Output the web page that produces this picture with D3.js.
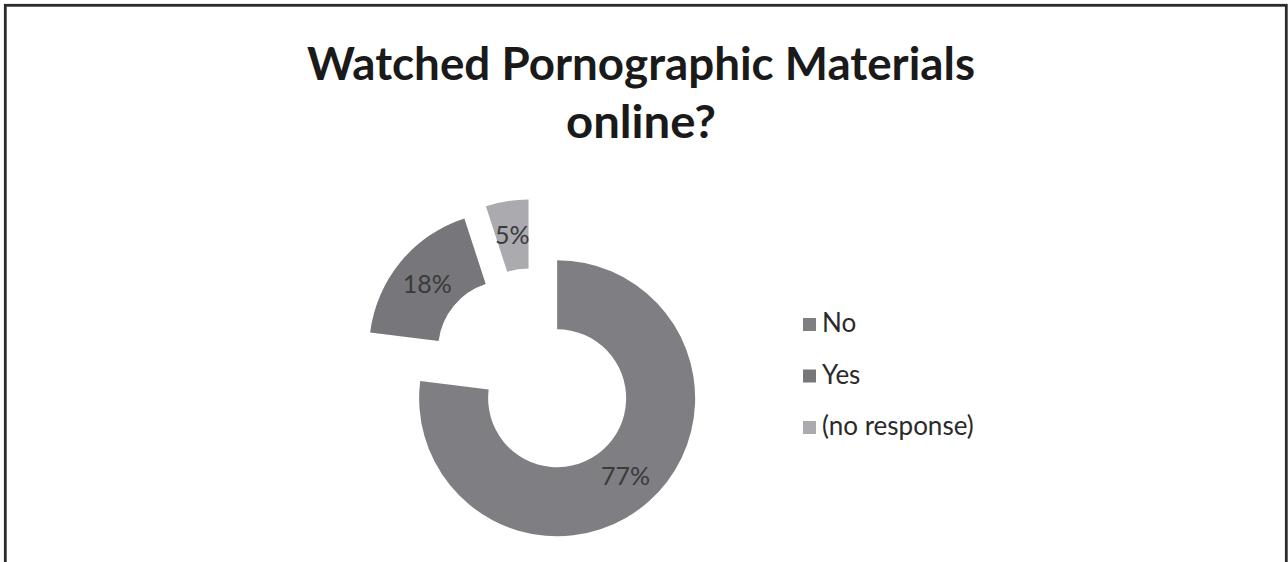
<!DOCTYPE html>
<html>
<head>
<meta charset="utf-8">
<script src="https://cdn.jsdelivr.net/npm/d3@7"></script>
<style>
  html, body { margin: 0; padding: 0; background: #fff; }
  svg { display: block; }
</style>
</head>
<body>
<svg id="chart" width="1288" height="562"></svg>
<script>
// Survey answers and their shares (percent)
const categories = ["No", "Yes", "(no response)"];
const values = [77, 18, 5];
const colors = ["#7f7f83", "#77777b", "#ababaf"];
const titleLines = ["Watched Pornographic Materials", "online?"];

const svg = d3.select("#chart");

// frame (open at the bottom edge)
svg.append("rect")
  .attr("x", 5.3).attr("y", 5.3)
  .attr("width", 1281).attr("height", 640)
  .attr("fill", "none")
  .attr("stroke", "#2b2b2b")
  .attr("stroke-width", 2.8);

// title, two centred lines
const title = svg.append("text")
  .attr("text-anchor", "middle")
  .attr("font-family", "Lato, 'Open Sans', sans-serif")
  .attr("font-weight", "bold")
  .attr("font-size", 45)
  .attr("fill", "#1a1a1a");
title.append("tspan").attr("x", 641).attr("y", 80)
  .attr("textLength", 668).attr("lengthAdjust", "spacingAndGlyphs")
  .text(titleLines[0]);
title.append("tspan").attr("x", 641).attr("y", 138)
  .attr("textLength", 150).attr("lengthAdjust", "spacingAndGlyphs")
  .text(titleLines[1]);

// donut with every slice pulled out along its bisector
const cx = 534, cy = 372;
const outerR = 138, innerR = 69, explode = 35;

const pie = d3.pie().sort(null).value(d => d).startAngle(0).endAngle(2 * Math.PI);
const arcs = pie(values);
const arc = d3.arc().innerRadius(innerR).outerRadius(outerR);
const colorScale = d3.scaleOrdinal().domain(categories).range(colors);

const g = svg.append("g").attr("transform", `translate(${cx},${cy})`);

const slice = g.selectAll("g.slice")
  .data(arcs)
  .join("g")
  .attr("class", "slice")
  .attr("transform", d => {
    const a = (d.startAngle + d.endAngle) / 2;
    return `translate(${Math.sin(a) * explode},${-Math.cos(a) * explode})`;
  });

slice.append("path")
  .attr("d", arc)
  .attr("fill", (d, i) => colorScale(categories[i]));

slice.append("text")
  .attr("transform", d => `translate(${arc.centroid(d)})`)
  .attr("text-anchor", "middle")
  .attr("dy", "0.36em")
  .attr("font-family", "Lato, 'Open Sans', sans-serif")
  .attr("font-size", 25)
  .attr("fill", "#3a3a3a")
  .text(d => d.data + "%");

// legend
const legend = svg.append("g").attr("transform", "translate(803,318)");
const item = legend.selectAll("g")
  .data(categories)
  .join("g")
  .attr("transform", (d, i) => `translate(0,${i * 51.5})`);
item.append("rect")
  .attr("width", 13).attr("height", 13)
  .attr("fill", d => colorScale(d));
item.append("text")
  .attr("x", 19).attr("y", 14)
  .attr("font-family", "Lato, 'Open Sans', sans-serif")
  .attr("font-size", 26)
  .attr("fill", "#2a2a2a")
  .text(d => d);
</script>
</body>
</html>
